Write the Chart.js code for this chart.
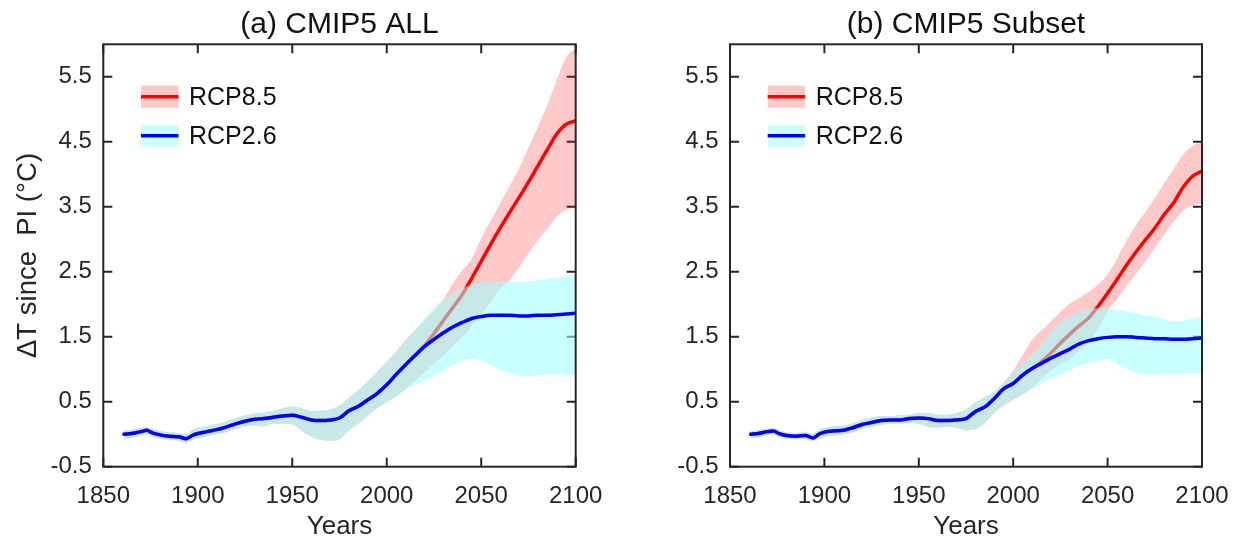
<!DOCTYPE html>
<html><head><meta charset="utf-8">
<script src="https://cdn.jsdelivr.net/npm/chart.js@4.4.1/dist/chart.umd.min.js"></script>
<style>
html,body{margin:0;padding:0;background:#fff;}
#wrap{position:relative;width:1241px;height:543px;overflow:hidden;background:#fff;}
canvas{position:absolute;top:0;}
</style></head><body>
<div id="wrap">
<canvas id="ca" width="620" height="543" style="left:0;width:620px;height:543px"></canvas>
<canvas id="cb" width="621" height="543" style="left:620px;width:621px;height:543px"></canvas>
</div>
<script>
// ---------- data ----------
const years = [1861,1865,1870,1873,1876,1880,1885,1890,1894,1897,
  1900,1905,1910,1915,1920,1925,1930,1935,1940,1945,
  1950,1955,1960,1965,1970,1975,1980,1985,1990,1995,
  2000,2005,2010,2015,2020,2025,2030,2035,2040,2045,
  2050,2055,2060,2065,2070,2075,2080,2085,2090,2095,2100];
const xTicks = [1850,1900,1950,2000,2050,2100];
const yTicks = [-0.5,0.5,1.5,2.5,3.5,4.5,5.5];
const seriesNames = ['RCP8.5','RCP2.6'];
const panelTitles = ['(a) CMIP5 ALL','(b) CMIP5 Subset'];
const xTitle = 'Years';
const yTitle = 'ΔT since  PI (°C)';

// panel (a) CMIP5 ALL
const allRcp26Mean = [0.00,0.01,0.04,0.06,0.02,-0.01,-0.03,-0.04,-0.07,-0.02,
  0.01,0.04,0.07,0.11,0.16,0.20,0.23,0.24,0.26,0.28,
  0.29,0.26,0.22,0.21,0.22,0.25,0.36,0.43,0.53,0.63,
  0.76,0.92,1.07,1.21,1.35,1.46,1.56,1.65,1.72,1.78,
  1.81,1.83,1.83,1.83,1.82,1.82,1.83,1.83,1.84,1.85,1.86];
const allRcp26Upper = [0.06,0.07,0.10,0.11,0.08,0.05,0.03,0.02,0.00,0.07,
  0.10,0.13,0.16,0.20,0.25,0.29,0.32,0.33,0.36,0.40,
  0.43,0.40,0.36,0.36,0.38,0.44,0.56,0.68,0.82,0.96,
  1.12,1.27,1.43,1.60,1.78,1.95,2.07,2.16,2.24,2.30,
  2.33,2.35,2.35,2.34,2.34,2.35,2.37,2.39,2.41,2.43,2.45];
const allRcp26Lower = [-0.08,-0.06,-0.02,0.00,-0.04,-0.07,-0.09,-0.10,-0.14,-0.09,
  -0.07,-0.03,0.00,0.03,0.08,0.12,0.13,0.12,0.16,0.16,
  0.15,0.05,-0.04,-0.09,-0.10,-0.08,0.06,0.16,0.28,0.40,
  0.49,0.58,0.68,0.76,0.82,0.90,0.98,1.06,1.13,1.16,
  1.13,1.06,0.99,0.94,0.90,0.89,0.91,0.92,0.92,0.91,0.90];
const allRcp85Mean = [0.00,0.01,0.04,0.06,0.02,-0.01,-0.03,-0.04,-0.07,-0.02,
  0.01,0.04,0.07,0.11,0.16,0.20,0.23,0.24,0.26,0.28,
  0.29,0.26,0.22,0.21,0.22,0.25,0.36,0.43,0.53,0.63,
  0.76,0.92,1.07,1.22,1.37,1.55,1.75,1.95,2.15,2.40,
  2.66,2.92,3.17,3.41,3.64,3.88,4.13,4.38,4.62,4.77,4.82];
const allRcp85Upper = [0.06,0.07,0.10,0.11,0.08,0.05,0.03,0.02,0.00,0.07,
  0.10,0.13,0.16,0.20,0.25,0.29,0.32,0.33,0.36,0.40,
  0.43,0.40,0.36,0.36,0.38,0.44,0.56,0.68,0.82,0.96,
  1.12,1.27,1.45,1.60,1.75,1.90,2.08,2.32,2.52,2.70,
  3.02,3.28,3.55,3.82,4.09,4.41,4.73,5.07,5.45,5.80,5.93];
const allRcp85Lower = [-0.08,-0.06,-0.02,0.00,-0.04,-0.07,-0.09,-0.10,-0.14,-0.09,
  -0.07,-0.03,0.00,0.03,0.08,0.12,0.13,0.12,0.16,0.16,
  0.15,0.05,-0.04,-0.09,-0.10,-0.08,0.06,0.16,0.28,0.40,
  0.49,0.58,0.70,0.82,0.95,1.08,1.22,1.35,1.50,1.67,
  1.85,2.04,2.24,2.37,2.56,2.78,2.98,3.16,3.35,3.45,3.50];

// panel (b) CMIP5 Subset
const subRcp26Mean = [0.00,0.01,0.04,0.05,0.01,-0.02,-0.03,-0.02,-0.06,0.00,
  0.03,0.05,0.06,0.10,0.15,0.18,0.21,0.22,0.22,0.24,
  0.25,0.24,0.21,0.21,0.22,0.24,0.35,0.42,0.55,0.70,
  0.78,0.91,1.01,1.09,1.17,1.24,1.31,1.39,1.44,1.47,
  1.49,1.50,1.50,1.49,1.48,1.47,1.47,1.46,1.46,1.47,1.48];
const subRcp26Upper = [0.05,0.06,0.09,0.10,0.06,0.03,0.02,0.03,0.01,0.07,
  0.10,0.12,0.13,0.17,0.22,0.26,0.28,0.28,0.29,0.30,
  0.33,0.33,0.30,0.30,0.33,0.38,0.49,0.57,0.66,0.80,
  0.94,1.09,1.22,1.38,1.58,1.72,1.81,1.88,1.92,1.94,
  1.93,1.91,1.89,1.86,1.83,1.81,1.77,1.74,1.74,1.78,1.81];
const subRcp26Lower = [-0.06,-0.05,-0.01,0.00,-0.04,-0.07,-0.08,-0.07,-0.10,-0.06,
  -0.04,-0.02,-0.01,0.03,0.08,0.11,0.14,0.16,0.16,0.17,
  0.16,0.11,0.10,0.11,0.10,0.06,0.08,0.17,0.33,0.44,
  0.53,0.61,0.70,0.77,0.86,0.92,0.98,1.05,1.10,1.12,
  1.16,1.08,1.01,0.95,0.92,0.92,0.93,0.93,0.93,0.94,0.93];
const subRcp85Mean = [0.00,0.01,0.04,0.05,0.01,-0.02,-0.03,-0.02,-0.06,0.00,
  0.03,0.05,0.06,0.10,0.15,0.18,0.21,0.22,0.22,0.24,
  0.25,0.24,0.21,0.21,0.22,0.24,0.35,0.42,0.55,0.70,
  0.78,0.91,1.01,1.12,1.25,1.40,1.54,1.67,1.79,1.97,
  2.17,2.38,2.60,2.80,2.99,3.17,3.38,3.56,3.80,3.97,4.05];
const subRcp85Upper = [0.05,0.06,0.09,0.10,0.06,0.03,0.02,0.03,0.01,0.07,
  0.10,0.12,0.13,0.17,0.22,0.26,0.28,0.28,0.29,0.30,
  0.33,0.33,0.30,0.30,0.33,0.38,0.49,0.57,0.66,0.80,
  0.98,1.22,1.45,1.60,1.74,1.88,2.01,2.10,2.19,2.30,
  2.46,2.70,2.98,3.22,3.42,3.63,3.86,4.08,4.30,4.44,4.49];
const subRcp85Lower = [-0.06,-0.05,-0.01,0.00,-0.04,-0.07,-0.08,-0.07,-0.10,-0.06,
  -0.04,-0.02,-0.01,0.03,0.08,0.11,0.14,0.16,0.16,0.17,
  0.16,0.11,0.10,0.11,0.10,0.06,0.08,0.17,0.33,0.44,
  0.53,0.61,0.72,0.85,0.98,1.08,1.15,1.28,1.42,1.62,
  1.90,2.07,2.28,2.46,2.65,2.86,3.07,3.27,3.44,3.52,3.55];

// ---------- styling ----------
const FONT = '"Liberation Sans", Arial, Helvetica, sans-serif';
const INK = '#262626';
const RED = 'rgb(255,0,0)';
const BLUE = 'rgb(0,0,255)';
const PINK = 'rgba(255,0,0,0.21)';
const CYAN = 'rgba(154,255,255,0.55)';

function pts(v){ return years.map((y,i)=>({x:y, y:v[i]})); }

const framePlugin = {
  id:'frame',
  beforeDatasetsDraw(chart){
    const {ctx, chartArea:a, scales:{x,y}} = chart;
    ctx.save();
    ctx.strokeStyle = INK; ctx.lineWidth = 2;
    ctx.beginPath();
    xTicks.forEach(v=>{
      const px = x.getPixelForValue(v);
      ctx.moveTo(px, a.bottom); ctx.lineTo(px, a.bottom-9);
      ctx.moveTo(px, a.top); ctx.lineTo(px, a.top+9);
    });
    yTicks.forEach(v=>{
      const py = y.getPixelForValue(v);
      ctx.moveTo(a.left, py); ctx.lineTo(a.left+9, py);
      ctx.moveTo(a.right, py); ctx.lineTo(a.right-9, py);
    });
    ctx.stroke();
    ctx.restore();
  },
  afterDatasetsDraw(chart){
    const {ctx, chartArea:a} = chart;
    ctx.save();
    ctx.strokeStyle = INK; ctx.lineWidth = 2;
    ctx.strokeRect(a.left, a.top, a.right-a.left, a.bottom-a.top);
    ctx.restore();
  }
};

function titlePlugin(text){
  return {
    id:'ptitle',
    afterDraw(chart){
      const {ctx, chartArea:a} = chart;
      ctx.save();
      ctx.font = '30px ' + FONT;
      ctx.fillStyle = '#111';
      ctx.textAlign = 'center';
      ctx.textBaseline = 'middle';
      ctx.fillText(text, (a.left+a.right)/2, 25);
      ctx.restore();
    }
  };
}

const legendPlugin = {
  id:'plegend',
  afterDraw(chart){
    const {ctx, chartArea:a} = chart;
    const x0 = a.left + 37.7, w = 37.5;
    const items = [
      {y0:85.7, h:22, fill:PINK, line:RED, label:seriesNames[0]},
      {y0:125, h:21.7, fill:'rgb(204,255,255)', line:BLUE, label:seriesNames[1]}
    ];
    ctx.save();
    items.forEach(it=>{
      ctx.fillStyle = it.fill;
      ctx.fillRect(x0, it.y0, w, it.h);
      ctx.strokeStyle = it.line; ctx.lineWidth = 3.5;
      ctx.beginPath();
      ctx.moveTo(x0, it.y0+it.h/2); ctx.lineTo(x0+w, it.y0+it.h/2);
      ctx.stroke();
      ctx.fillStyle = '#111';
      ctx.font = '25px ' + FONT;
      ctx.textAlign = 'left'; ctx.textBaseline = 'middle';
      ctx.fillText(it.label, x0+48, it.y0+it.h/2+1);
    });
    ctx.restore();
  }
};

function build(id, title, d, geom, showYTitle){
  return new Chart(document.getElementById(id), {
    type:'line',
    data:{datasets:[
      {label:seriesNames[0]+' upper', data:pts(d.u85), borderWidth:0, pointRadius:0, backgroundColor:PINK, fill:1, order:4},
      {label:seriesNames[0]+' lower', data:pts(d.l85), borderWidth:0, pointRadius:0, fill:false, order:4},
      {label:seriesNames[0], data:pts(d.m85), borderColor:RED, borderWidth:3.5, pointRadius:0, fill:false, order:3},
      {label:seriesNames[1]+' upper', data:pts(d.u26), borderWidth:0, pointRadius:0, backgroundColor:CYAN, fill:4, order:2},
      {label:seriesNames[1]+' lower', data:pts(d.l26), borderWidth:0, pointRadius:0, fill:false, order:2},
      {label:seriesNames[1], data:pts(d.m26), borderColor:BLUE, borderWidth:3.5, pointRadius:0, fill:false, order:1}
    ]},
    options:{
      responsive:false, animation:false, devicePixelRatio:1,
      layout:{padding:{left:0, right:geom.padR, top:44.3, bottom:0}},
      plugins:{legend:{display:false}, tooltip:{enabled:false}, title:{display:false}},
      elements:{line:{cubicInterpolationMode:'monotone', borderCapStyle:'round', borderJoinStyle:'round'}},
      scales:{
        x:{type:'linear', min:1850, max:2100,
          grid:{display:false, drawTicks:false}, border:{display:false},
          afterBuildTicks:s=>{ s.ticks = xTicks.map(v=>({value:v})); },
          afterFit:s=>{ s.height = 76.3; s.paddingLeft = 0; s.paddingRight = 0; },
          ticks:{font:{family:FONT, size:24}, color:INK, padding:15, maxRotation:0, autoSkip:false,
            callback:v=>String(v)},
          title:{display:true, text:xTitle, font:{family:FONT, size:26}, color:INK, padding:{top:0, bottom:1}}
        },
        y:{type:'linear', min:-0.5, max:6,
          grid:{display:false, drawTicks:false}, border:{display:false},
          afterBuildTicks:s=>{ s.ticks = yTicks.map(v=>({value:v})); },
          afterFit:s=>{ s.width = geom.yw; s.paddingTop = 0; s.paddingBottom = 0; },
          ticks:{font:{family:FONT, size:24}, color:INK, padding:11.5, autoSkip:false,
            callback:v=>Number(v).toFixed(1)},
          title:{display:showYTitle, text:yTitle, font:{family:FONT, size:27.5}, color:INK, padding:{top:12, bottom:0}}
        }
      }
    },
    plugins:[framePlugin, titlePlugin(title), legendPlugin]
  });
}

build('ca', panelTitles[0],
  {m26:allRcp26Mean, u26:allRcp26Upper, l26:allRcp26Lower, m85:allRcp85Mean, u85:allRcp85Upper, l85:allRcp85Lower},
  {yw:103.3, padR:620-575.7}, true);
build('cb', panelTitles[1],
  {m26:subRcp26Mean, u26:subRcp26Upper, l26:subRcp26Lower, m85:subRcp85Mean, u85:subRcp85Upper, l85:subRcp85Lower},
  {yw:110, padR:621-582}, false);
</script>
</body></html>
